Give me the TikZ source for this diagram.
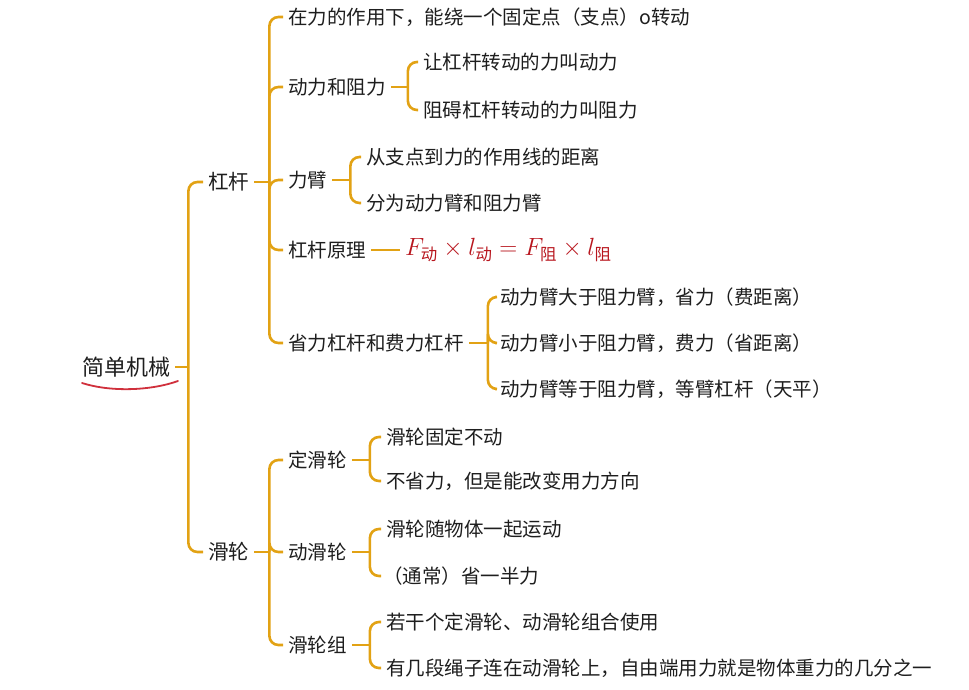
\documentclass[tikz,border=0pt]{standalone}
\usepackage{amsmath}
\usepackage{fontspec}
\setmainfont{Noto Sans CJK SC}
\usepackage{tikz}
\usetikzlibrary{positioning}
\definecolor{branch}{HTML}{E2A214}
\definecolor{ink}{HTML}{1E1E1E}
\definecolor{lawred}{HTML}{B8161E}
\definecolor{markred}{HTML}{D0303C}

\begin{document}
\begin{tikzpicture}[
  x=1pt, y=-1pt,
  topic/.style={anchor=west, inner sep=5pt, text=ink, font=\fontsize{19.5}{22}\selectfont},
  roottopic/.style={topic, font=\fontsize{22}{26}\selectfont},
  maintopic/.style={topic, font=\fontsize{20.5}{24}\selectfont},
  br/.style={draw=branch, line width=2.6pt, rounded corners=9pt}
]
\useasboundingbox (0,0) rectangle (969,690);

\node[roottopic] (root) at (77,367) {简单机械};
\node[maintopic] (lever) at (203,182) {杠杆};
\node[maintopic] (pulley) at (203,552) {滑轮};

% lever
\node[topic] (def) at (283,17) {在力的作用下，能绕一个固定点（支点）o转动};
\node[topic] (force) at (283,87) {动力和阻力};
\node[topic] (arm) at (283,180) {力臂};
\node[topic] (law) at (283,250) {杠杆原理};
\node[topic] (kinds) at (283,343) {省力杠杆和费力杠杆};
\node[topic] (force1) at (418,62) {让杠杆转动的力叫动力};
\node[topic] (force2) at (418,110) {阻碍杠杆转动的力叫阻力};
\node[topic] (arm1) at (361,157) {从支点到力的作用线的距离};
\node[topic] (arm2) at (361,203) {分为动力臂和阻力臂};
\node[topic, text=lawred, font=\fontsize{23.5}{27}\selectfont] (formula) at (400,250)
  {$F_{\text{动}}\times l_{\text{动}} = F_{\text{阻}}\times l_{\text{阻}}$};
\node[topic] (kind1) at (495,297) {动力臂大于阻力臂，省力（费距离）};
\node[topic] (kind2) at (495,343) {动力臂小于阻力臂，费力（省距离）};
\node[topic] (kind3) at (495,389) {动力臂等于阻力臂，等臂杠杆（天平）};

% pulley
\node[topic] (fixed) at (283,460) {定滑轮};
\node[topic] (movable) at (283,552) {动滑轮};
\node[topic] (block) at (283,645) {滑轮组};
\node[topic] (fixed1) at (381,437) {滑轮固定不动};
\node[topic] (fixed2) at (381,481) {不省力，但是能改变用力方向};
\node[topic] (movable1) at (381,529) {滑轮随物体一起运动};
\node[topic] (movable2) at (378,576) {（通常）省一半力};
\node[topic] (block1) at (381,622) {若干个定滑轮、动滑轮组合使用};
\node[topic] (block2) at (381,668) {有几段绳子连在动滑轮上，自由端用力就是物体重力的几分之一};

% branches
\draw[br] (root.east) -- ++(13,0) coordinate (rootj);
\foreach \c in {lever,pulley} \draw[br] (rootj) |- (\c.west);
\draw[br] (lever.east) -- ++(15,0) coordinate (leverj);
\foreach \c in {def,force,arm,law,kinds} \draw[br] (leverj) |- (\c.west);
\draw[br] (force.east) -- ++(17,0) coordinate (forcej);
\foreach \c in {force1,force2} \draw[br] (forcej) |- (\c.west);
\draw[br] (arm.east) -- ++(18,0) coordinate (armj);
\foreach \c in {arm1,arm2} \draw[br] (armj) |- (\c.west);
\draw[br] (law.east) -- (formula.west);
\draw[br] (kinds.east) -- ++(19,0) coordinate (kindsj);
\foreach \c in {kind1,kind2,kind3} \draw[br] (kindsj) |- (\c.west);
\draw[br] (pulley.east) -- ++(15,0) coordinate (pulleyj);
\foreach \c in {fixed,movable,block} \draw[br] (pulleyj) |- (\c.west);
\draw[br] (fixed.east) -- ++(18,0) coordinate (fixedj);
\foreach \c in {fixed1,fixed2} \draw[br] (fixedj) |- (\c.west);
\draw[br] (movable.east) -- ++(18,0) coordinate (movablej);
\draw[br] (movablej) |- (movable1.west);
\draw[br] (movablej) |- ([xshift=3pt]movable2.west);
\draw[br] (block.east) -- ++(18,0) coordinate (blockj);
\foreach \c in {block1,block2} \draw[br] (blockj) |- (\c.west);

% hand-drawn underline
\draw[markred, line width=1.8pt, line cap=round] (82,383) .. controls (110,392) and (150,391) .. (178,381);
\end{tikzpicture}
\end{document}
